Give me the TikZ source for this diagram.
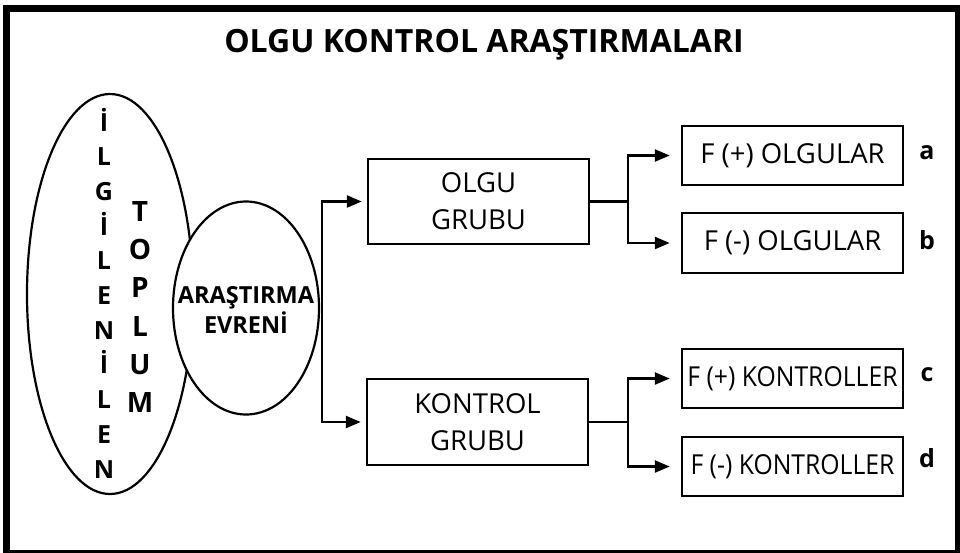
\documentclass[tikz,border=0pt]{standalone}
\usepackage{fontspec}
\setmainfont{Open Sans}
\newfontfamily\narrowfont[FakeStretch=0.9]{Open Sans}
\usetikzlibrary{shapes.geometric,arrows.meta}

\begin{document}
\begin{tikzpicture}[x=1pt, y=-1pt,
    box/.style={draw, line width=2.5pt, inner sep=0pt, align=center},
    link/.style={line width=2.5pt, -{Triangle[length=15pt, width=12pt]}},
    tag/.style={anchor=base, font=\fontsize{25}{30}\selectfont\bfseries}]

    \useasboundingbox (0,0) rectangle (960,552);
    \clip (0,0) rectangle (960,552);
    \draw[line width=7pt] (6.5,8.5) rectangle (958.5,553);

    \node[font=\fontsize{32}{38}\selectfont\bfseries] (title) at (484,45) {OLGU KONTROL ARAŞTIRMALARI};

    % population and study universe
    \node[ellipse, draw, line width=2.2pt, minimum width=166pt, minimum height=400pt, inner sep=0pt] (toplum) at (110,294) {};
    \node[font=\fontsize{25}{34.7}\selectfont\bfseries, align=center, inner sep=0pt] (ilgilenen) at (104,293)
        {İ\\L\\G\\İ\\L\\E\\N\\İ\\L\\E\\N};
    \node[font=\fontsize{28}{38.2}\selectfont\bfseries, align=center, inner sep=0pt] (toplumtext) at (140,307)
        {T\\O\\P\\L\\U\\M};
    \node[ellipse, draw, fill=white, line width=2.2pt, minimum width=146pt, minimum height=213pt, inner sep=0pt] (evren) at (246,308) {};
    \node[font=\fontsize{23.5}{30}\selectfont\bfseries, align=center] (evrentext) at (246,310) {ARAŞTIRMA\\EVRENİ};

    % groups
    \node[box, minimum width=221pt, minimum height=85pt, font=\fontsize{27.5}{37}\selectfont] (olgu) at (478.5,201.5) {OLGU\\GRUBU};
    \node[box, minimum width=221pt, minimum height=86pt, font=\fontsize{27.5}{37}\selectfont] (kontrol) at (477.5,422) {KONTROL\\GRUBU};

    % exposure boxes
    \node[box, minimum width=221pt, minimum height=59pt, font=\fontsize{27.5}{30}\selectfont] (fpo) at (792.5,155.5) {F (+) OLGULAR};
    \node[box, minimum width=221pt, minimum height=60pt, font=\fontsize{27.5}{30}\selectfont] (fno) at (792.5,243) {F (-) OLGULAR};
    \node[box, minimum width=221pt, minimum height=59pt, font=\fontsize{27.5}{30}\narrowfont] (fpk) at (792.5,378.5) {F (+) KONTROLLER};
    \node[box, minimum width=221pt, minimum height=59pt, font=\fontsize{27.5}{30}\narrowfont] (fnk) at (792.5,466.5) {F (-) KONTROLLER};

    \node[tag] (a) at (927,159) {a};
    \node[tag] (b) at (927,249) {b};
    \node[tag] (c) at (927,381) {c};
    \node[tag] (d) at (927,467) {d};

    \coordinate (split) at ([xshift=2pt]evren.east);
    \coordinate (olgusplit) at (628,201.5);
    \coordinate (kontrolsplit) at (628,422);

    \draw[link, shorten >=5pt] (split) |- (olgu.west); % evren - olgu
    \draw[link, shorten >=5pt] (split) |- (kontrol.west); % evren - kontrol

    \draw[line width=2.5pt] (olgu.east) -- (olgusplit);
    \draw[link, shorten >=11pt] (olgusplit) |- (fpo.west); % olgu - F(+)
    \draw[link, shorten >=11pt] (olgusplit) |- (fno.west); % olgu - F(-)

    \draw[line width=2.5pt] (kontrol.east) -- (kontrolsplit);
    \draw[link, shorten >=11pt] (kontrolsplit) |- (fpk.west); % kontrol - F(+)
    \draw[link, shorten >=11pt] (kontrolsplit) |- (fnk.west); % kontrol - F(-)
\end{tikzpicture}
\end{document}
